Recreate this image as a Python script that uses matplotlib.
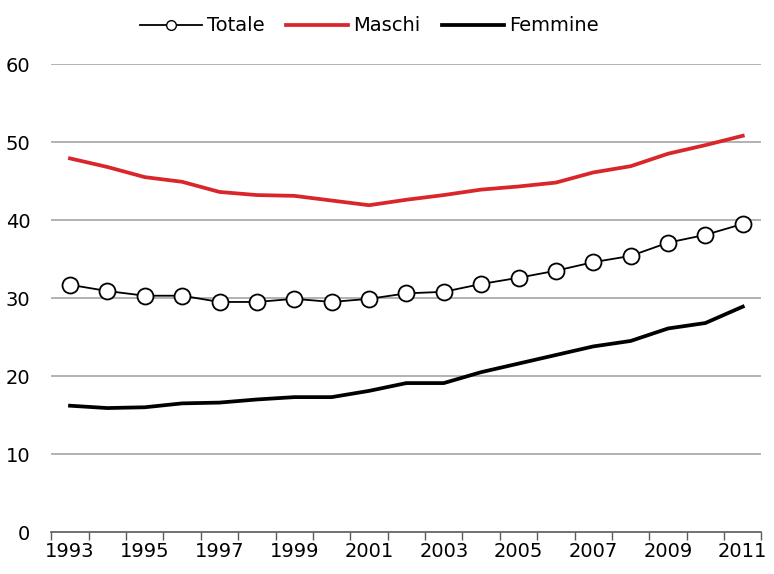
import matplotlib
matplotlib.use("Agg")
import matplotlib.pyplot as plt
from matplotlib.lines import Line2D
import numpy as np

years = list(range(1993, 2012))
totale = [31.7, 30.9, 30.3, 30.3, 29.5, 29.5, 29.9, 29.5, 29.9, 30.6, 30.8, 31.8,
          32.6, 33.5, 34.6, 35.4, 37.1, 38.1, 39.5]
maschi = [47.9, 46.8, 45.5, 44.9, 43.6, 43.2, 43.1, 42.5, 41.9, 42.6, 43.2, 43.9,
          44.3, 44.8, 46.1, 46.9, 48.5, 49.6, 50.8]
femmine = [16.2, 15.9, 16.0, 16.5, 16.6, 17.0, 17.3, 17.3, 18.1, 19.1, 19.1, 20.5,
           21.6, 22.7, 23.8, 24.5, 26.1, 26.8, 28.9]
labels = ["Totale", "Maschi", "Femmine"]
yticks = [0, 10, 20, 30, 40, 50, 60]

plt.rcParams['font.family'] = ['DejaVu Sans']
fig = plt.figure(figsize=(7.74, 5.74), dpi=100)
ax = fig.add_axes([0.0663, 0.073, 0.9175, 0.8155])

x = np.arange(len(years))
ax.plot(x, maschi, color="#d9262b", lw=2.7, solid_joinstyle="round", zorder=3)
ax.plot(x, femmine, color="black", lw=2.7, solid_joinstyle="round", zorder=3)
ax.plot(x, totale, color="black", lw=1.3, marker="o", markersize=11.5,
        markerfacecolor="white", markeredgecolor="black", markeredgewidth=1.3, zorder=4)

ax.set_xlim(-0.5, len(years) - 0.5)
ax.set_ylim(0, 60)
ax.set_yticks(yticks)
ax.set_yticklabels([str(v) for v in yticks], fontsize=14)
for v in yticks[1:]:
    ax.axhline(v, color="#a6a6a6", lw=1.2, zorder=1)

ax.set_xticks(x[::2])
ax.set_xticklabels([str(y) for y in years[::2]], fontsize=14)
ax.set_xticks(np.arange(-0.5, len(years), 1.0), minor=True)
ax.tick_params(axis="x", which="major", length=0, pad=7)
ax.tick_params(axis="x", which="minor", length=6, width=1, color="#595959", direction="out")
ax.tick_params(axis="y", length=0, pad=15)

for s in ["top", "right", "left"]:
    ax.spines[s].set_visible(False)
ax.spines["bottom"].set_color("#595959")
ax.spines["bottom"].set_linewidth(1.2)

handles = [
    Line2D([], [], color="black", lw=1.3, marker="o", markersize=7,
           markerfacecolor="white", markeredgecolor="black"),
    Line2D([], [], color="#d9262b", lw=2.7),
    Line2D([], [], color="black", lw=2.7),
]
fig.legend(handles, labels, loc="center", bbox_to_anchor=(0.477, 0.955), ncol=3,
           frameon=False, fontsize=14, handlelength=3.2, handletextpad=0.25,
           columnspacing=1.1)

fig.savefig("out.png", dpi=100)
